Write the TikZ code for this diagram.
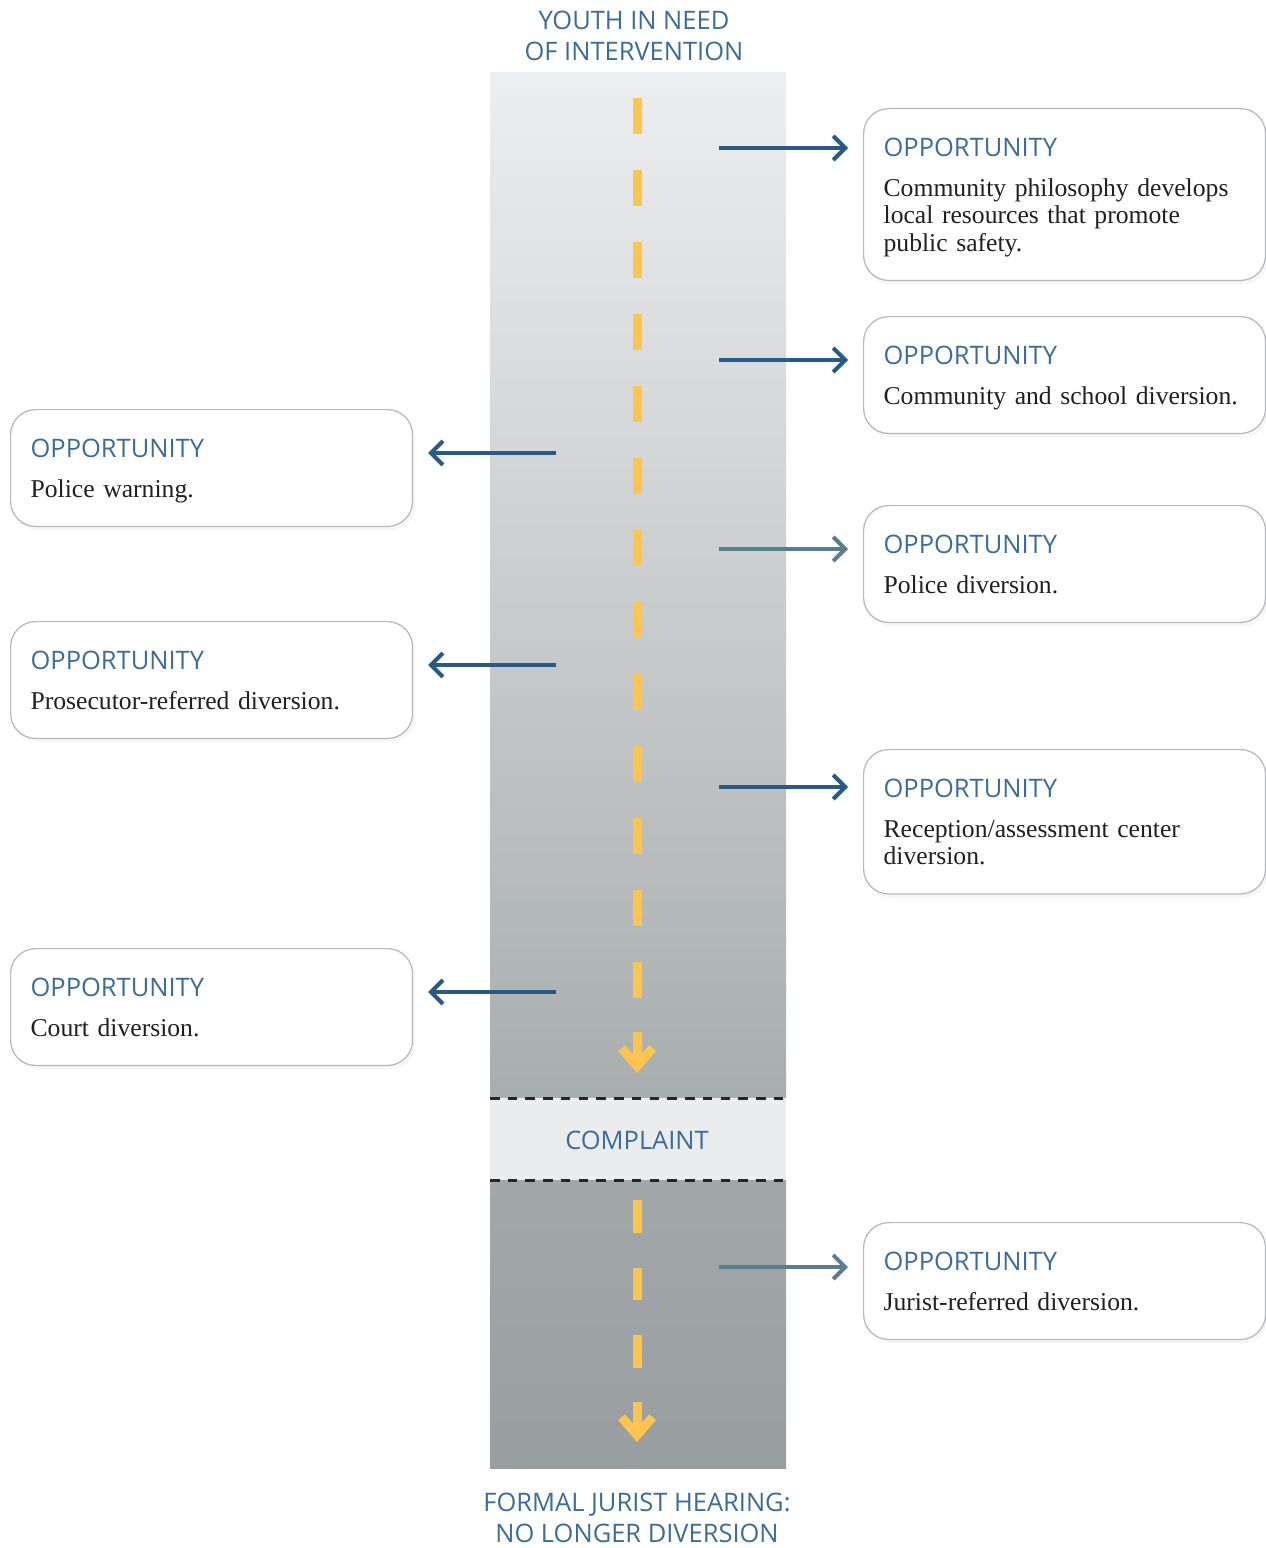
\documentclass[tikz,border=0pt]{standalone}
\usepackage{fontspec}
\setmainfont{Liberation Serif}
\setsansfont{Open Sans}
\usetikzlibrary{arrows.meta,shadows}

\definecolor{oppblue}{HTML}{3B6D98}
\definecolor{arrowblue}{HTML}{255B86}
\definecolor{arrowgrey}{HTML}{5B7E8E}
\definecolor{roadyellow}{HTML}{FDC54E}
\definecolor{boxline}{HTML}{B4B8BD}
\definecolor{roadtop}{HTML}{EDEEEF}
\definecolor{roadbottom}{HTML}{A8ADAE}
\definecolor{lowtop}{HTML}{A2A7A8}
\definecolor{lowbottom}{HTML}{999EA1}
\definecolor{bandgrey}{HTML}{EBECED}
\definecolor{bodytext}{HTML}{231F20}

% heading line of a box, with room above the caps
\newcommand{\opphead}{{\sffamily\fontsize{14.5}{18}\selectfont\color{oppblue}\rule{0pt}{15.05pt}OPPORTUNITY}\\[7.1pt]}

\begin{document}
\begin{tikzpicture}[x=0.02cm, y=-0.02cm,
        >={Straight Barb[length=0.24cm,width=0.48cm]},
        oppbox/.style={draw=boxline, line width=0.7pt, fill=white, rounded corners=0.5cm,
            anchor=north west, align=left, text width=7.24cm, inner xsep=0.4cm, inner ysep=12pt,
            text=bodytext, font=\fontsize{14.6}{15.65}\selectfont,
            drop shadow={shadow xshift=0.05cm, shadow yshift=-0.08cm, opacity=0.07}},
        title/.style={font=\sffamily\fontsize{14.5}{17.4}\selectfont, text=oppblue, align=center, inner sep=0pt},
        outarrow/.style={->, line width=0.08cm, arrowblue, shorten >=0.3cm},
        paleout/.style={outarrow, arrowgrey},
        roadline/.style={roadyellow, line width=0.18cm},
        roadarrow/.style={roadline, -{Straight Barb[length=0.36cm,width=0.62cm]}},
        cutline/.style={dash pattern=on 0.19cm off 0.165cm, line width=0.06cm, black!85}]

    % Page
    \path[fill=white, use as bounding box] (0,0) rectangle (1266,1548);

    % The road
    \shade[top color=roadtop, bottom color=roadbottom] (490,73) rectangle (786,1098);
    \fill[bandgrey] (490,1098) rectangle (786,1180);
    \shade[top color=lowtop, bottom color=lowbottom] (490,1180) rectangle (786,1468);
    \draw[cutline] (490,1098) -- (786,1098);
    \draw[cutline] (490,1180) -- (786,1180);

    % Centre line
    \draw[roadline, dash pattern=on 0.72cm off 0.72cm] (637,98) -- (637,998);
    \draw[roadarrow] (637,1032) -- (637,1073);
    \draw[roadline, dash pattern=on 0.66cm off 0.69cm] (637,1200) -- (637,1368);
    \draw[roadarrow] (637,1402) -- (637,1442);

    % Labels on the road
    \node[title, anchor=north] (youth) at (634,11) {YOUTH IN NEED\\OF INTERVENTION};
    \node[title] (complaint) at (637,1140) {COMPLAINT};
    \node[title, anchor=north] (hearing) at (637,1493) {FORMAL JURIST HEARING:\\NO LONGER DIVERSION};

    % Opportunities, right side
    \node[oppbox] (comm) at (863,108) {\opphead Community philosophy develops\\local resources that promote\\public safety.\strut};
    \node[oppbox] (school) at (863,316) {\opphead Community and school diversion.\strut};
    \node[oppbox] (police) at (863,505) {\opphead Police diversion.\strut};
    \node[oppbox] (reception) at (863,749) {\opphead Reception/assessment center\\diversion.\strut};
    \node[oppbox] (jurist) at (863,1222) {\opphead Jurist-referred diversion.\strut};

    % Opportunities, left side
    \node[oppbox] (warning) at (10,409) {\opphead Police warning.\strut};
    \node[oppbox] (prosecutor) at (10,621) {\opphead Prosecutor-referred diversion.\strut};
    \node[oppbox] (court) at (10,948) {\opphead Court diversion.\strut};

    % Exits
    \coordinate (exitcomm) at (719,148);
    \coordinate (exitschool) at (719,360);
    \coordinate (exitpolice) at (719,549);
    \coordinate (exitreception) at (719,787);
    \coordinate (exitjurist) at (719,1267);
    \coordinate (exitwarning) at (556,453);
    \coordinate (exitprosecutor) at (556,665);
    \coordinate (exitcourt) at (556,992);

    \draw[outarrow] (exitcomm) -- (exitcomm -| comm.west);
    \draw[outarrow] (exitschool) -- (exitschool -| school.west);
    \draw[paleout] (exitpolice) -- (exitpolice -| police.west);
    \draw[outarrow] (exitreception) -- (exitreception -| reception.west);
    \draw[paleout] (exitjurist) -- (exitjurist -| jurist.west);

    \draw[outarrow] (exitwarning) -- (exitwarning -| warning.east);
    \draw[outarrow] (exitprosecutor) -- (exitprosecutor -| prosecutor.east);
    \draw[outarrow] (exitcourt) -- (exitcourt -| court.east);

\end{tikzpicture}
\end{document}
